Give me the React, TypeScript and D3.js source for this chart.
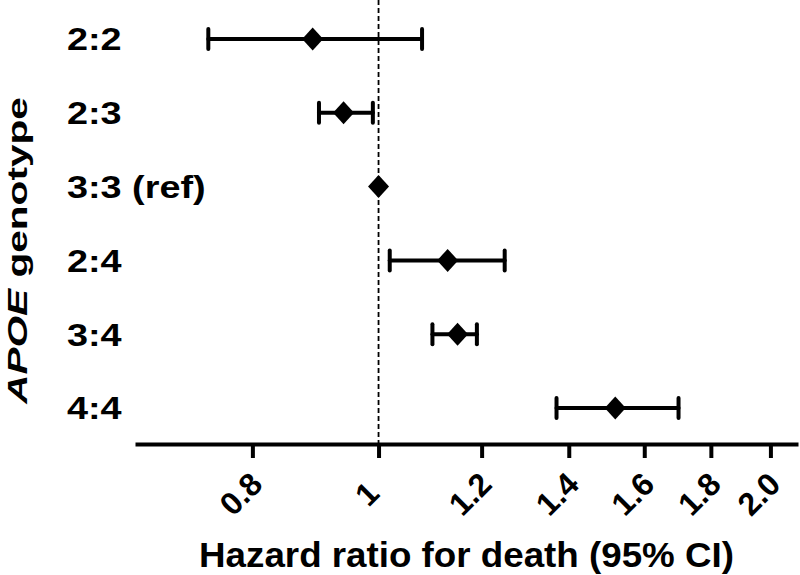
import React, { useEffect, useRef } from "react";
import * as d3 from "d3";

const genotypes = ["2:2", "2:3", "3:3 (ref)", "2:4", "3:4", "4:4"];
const hazard = [0.89, 0.94, 1.0, 1.13, 1.15, 1.52];
const lower = [0.74, 0.9, 1.0, 1.02, 1.1, 1.37];
const upper = [1.08, 0.99, 1.0, 1.25, 1.19, 1.7];
const tickValues = [0.8, 1, 1.2, 1.4, 1.6, 1.8, 2.0];
const tickLabels = ["0.8", "1", "1.2", "1.4", "1.6", "1.8", "2.0"];

const font = "'Liberation Sans', Arial, sans-serif";

export default function App() {
    const ref = useRef<SVGSVGElement>(null);

    useEffect(() => {
        const svg = d3.select(ref.current);
        svg.selectAll("*").remove();

        const axisY = 444;
        const x = d3.scaleLog().domain([0.65, 2.1]).range([135, 798]);
        const y = d3.scalePoint().domain(genotypes).range([2, 445]).padding(0.5);

        const rows = genotypes.map((g, i) => ({ g, hr: hazard[i], lo: lower[i], hi: upper[i] }));

        // reference line at HR = 1
        svg.append("line")
            .attr("x1", x(1)).attr("x2", x(1))
            .attr("y1", 0).attr("y2", axisY)
            .attr("stroke", "#000")
            .attr("stroke-width", 1.8)
            .attr("stroke-dasharray", "5,3");

        // x axis
        const xAxis = d3.axisBottom(x)
            .tickValues(tickValues)
            .tickFormat((d, i) => tickLabels[i])
            .tickSize(14)
            .tickSizeOuter(0);
        const gx = svg.append("g")
            .attr("transform", `translate(0,${axisY})`)
            .call(xAxis);
        gx.select(".domain").attr("stroke-width", 4).attr("stroke", "#000");
        gx.selectAll(".tick line").attr("stroke-width", 4).attr("stroke", "#000");
        gx.selectAll(".tick text")
            .attr("x", -12)
            .attr("y", 50)
            .attr("dy", null)
            .attr("dominant-baseline", "central")
            .attr("text-anchor", "middle")
            .attr("transform", "rotate(-45 -12 50)")
            .style("font-family", font)
            .style("font-size", "32px")
            .style("font-weight", "bold")
            .attr("fill", "#000");

        // error bars
        const bars = svg.selectAll(".bar").data(rows.filter(d => d.lo !== d.hi))
            .enter().append("g")
            .attr("class", "bar")
            .attr("stroke", "#000")
            .attr("stroke-width", 4)
            .attr("stroke-linecap", "round");
        bars.append("line")
            .attr("x1", d => x(d.lo)).attr("x2", d => x(d.hi))
            .attr("y1", d => y(d.g)!).attr("y2", d => y(d.g)!);
        bars.append("line")
            .attr("x1", d => x(d.lo)).attr("x2", d => x(d.lo))
            .attr("y1", d => y(d.g)! - 10).attr("y2", d => y(d.g)! + 10);
        bars.append("line")
            .attr("x1", d => x(d.hi)).attr("x2", d => x(d.hi))
            .attr("y1", d => y(d.g)! - 10).attr("y2", d => y(d.g)! + 10);

        // diamonds
        svg.selectAll(".pt").data(rows)
            .enter().append("path")
            .attr("class", "pt")
            .attr("d", "M0,-11.5L10.5,0L0,11.5L-10.5,0Z")
            .attr("transform", d => `translate(${x(d.hr)},${y(d.g)})`)
            .attr("fill", "#000");

        // category labels
        svg.selectAll(".cat").data(rows)
            .enter().append("text")
            .attr("class", "cat")
            .attr("transform", d => `translate(67,${y(d.g)! + 11.3}) scale(1.2,1)`)
            .style("font-family", font)
            .style("font-size", "31.5px")
            .style("font-weight", "bold")
            .text(d => d.g);

        // axis titles
        svg.append("text")
            .attr("transform", "translate(466.5,566.5) scale(1.05,1)")
            .attr("text-anchor", "middle")
            .style("font-family", font)
            .style("font-size", "35px")
            .style("font-weight", "bold")
            .text("Hazard ratio for death (95% CI)");

        const yt = svg.append("text")
            .attr("transform", "translate(27,250.5) rotate(-90) scale(1.45,1)")
            .attr("text-anchor", "middle")
            .style("font-family", font)
            .style("font-size", "28px")
            .style("font-weight", "bold");
        yt.append("tspan").style("font-style", "italic").text("APOE");
        yt.append("tspan").text(" genotype");
    }, []);

    return (
        <svg ref={ref} width={800} height={575}
            style={{ position: "absolute", left: 0, top: 0, background: "#fff" }} />
    );
}
